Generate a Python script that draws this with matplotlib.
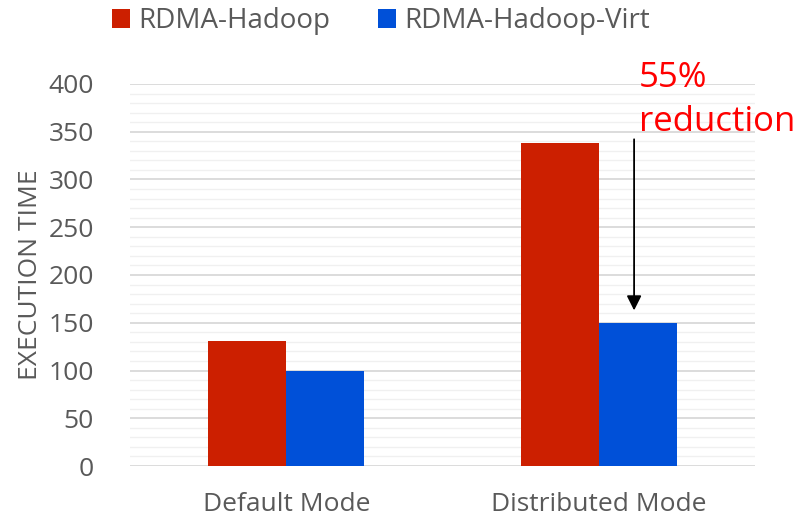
import matplotlib.pyplot as plt
import numpy as np

# chart data
categories = ['Default Mode', 'Distributed Mode']
series_names = ['RDMA-Hadoop', 'RDMA-Hadoop-Virt']
rdma_hadoop = [131, 338]
rdma_hadoop_virt = [100, 150]

RED = '#CC1F00'
BLUE = '#0050D8'
GREY_TXT = '#595959'

plt.rcParams['font.family'] = ['Open Sans', 'DejaVu Sans']

fig = plt.figure(figsize=(8.09, 5.19), dpi=100)
ax = fig.add_axes([0.1607, 0.1021, 0.7726, 0.7361])

x = np.arange(len(categories))
width = 0.25
ax.bar(x - width / 2, rdma_hadoop, width, color=RED, label=series_names[0], zorder=3)
ax.bar(x + width / 2, rdma_hadoop_virt, width, color=BLUE, label=series_names[1], zorder=3)

ax.set_xlim(-0.5, 1.5)
ax.set_ylim(0, 400)
ax.set_yticks(np.arange(0, 401, 50))
ax.set_yticks(np.arange(0, 401, 10), minor=True)
ax.grid(axis='y', which='major', color='#D9D9D9', linewidth=1.3, zorder=0)
ax.grid(axis='y', which='minor', color='#F0F0F0', linewidth=1.0, zorder=0)
ax.set_xticks(x)
ax.set_xticklabels(categories)
for s in ax.spines.values():
    s.set_visible(False)
ax.tick_params(axis='both', which='both', length=0, labelsize=19, colors=GREY_TXT)
ax.tick_params(axis='x', pad=19)
ax.tick_params(axis='y', pad=26)
ax.set_ylabel('EXECUTION TIME', fontsize=19, color=GREY_TXT, labelpad=4)

# annotation arrow
ax.annotate('', xy=(1.113, 160), xytext=(1.113, 345),
            arrowprops=dict(arrowstyle='-|>', color='black', lw=1.3,
                            mutation_scale=22), zorder=4, annotation_clip=False)
ax.text(1.128, 342, '55%\nreduction', color='#FF0000', fontsize=25,
        ha='left', va='bottom', linespacing=1.4, clip_on=False)

fig.legend(loc='center left', bbox_to_anchor=(112 / 809, 1 - 21 / 519), ncol=2,
           frameon=False, borderpad=0, borderaxespad=0,
           fontsize=20, handlelength=0.65, handleheight=0.65, handletextpad=0.3,
           columnspacing=1.7, labelcolor=GREY_TXT)

fig.savefig('out.png', dpi=100)
